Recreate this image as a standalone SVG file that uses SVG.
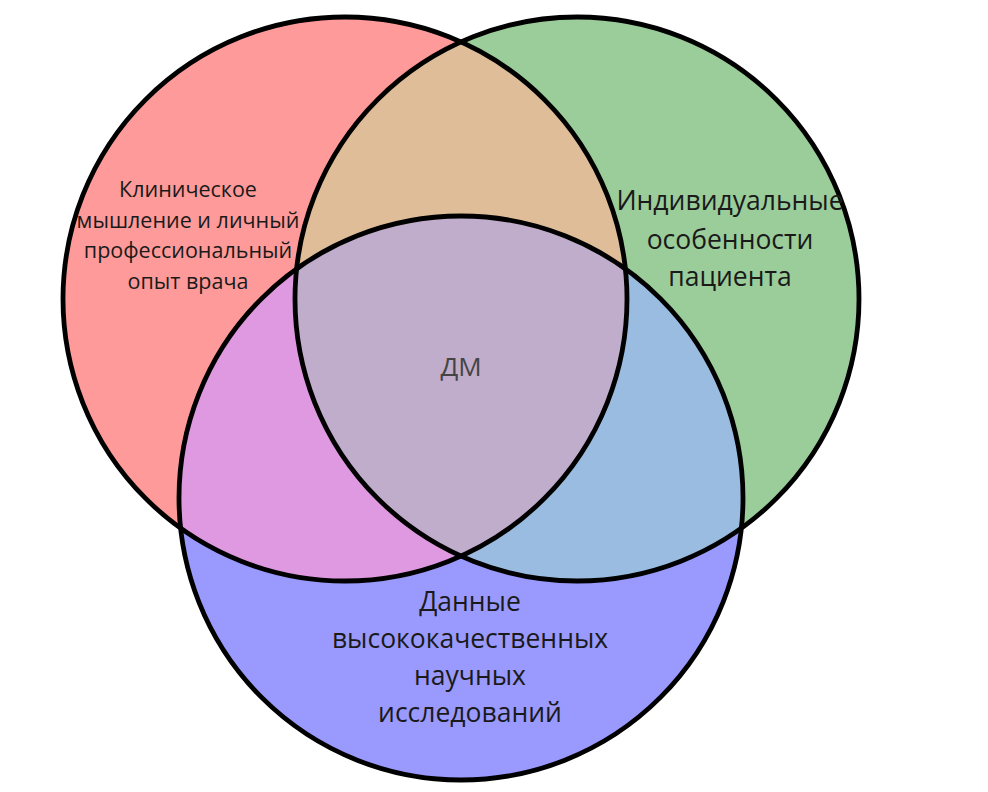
<svg xmlns="http://www.w3.org/2000/svg" width="988" height="792" viewBox="0 0 988 792">
<style>
.st{fill:none;stroke:#000;stroke-width:4.8}
.t{font-family:"Open Sans","Noto Sans",sans-serif;text-anchor:middle;fill:#1a1a1a}
</style>
<defs>
<clipPath id="cR"><circle cx="345" cy="299" r="282"/></clipPath>
<clipPath id="cG"><circle cx="577" cy="299" r="282"/></clipPath>
<clipPath id="cB"><circle cx="461" cy="498" r="282"/></clipPath>
</defs>
<rect width="988" height="792" fill="#fff"/>
<g id="fills">
<circle cx="345" cy="299" r="282" fill="#fe9a99"/>
<circle cx="577" cy="299" r="282" fill="#9bcd9a"/>
<circle cx="461" cy="498" r="282" fill="#9a9afe"/>
<g clip-path="url(#cR)"><circle cx="577" cy="299" r="282" fill="#e0bd99"/><circle cx="461" cy="498" r="282" fill="#df99e0"/></g>
<g clip-path="url(#cG)"><circle cx="461" cy="498" r="282" fill="#9abce0"/></g>
<g clip-path="url(#cR)"><g clip-path="url(#cG)"><circle cx="461" cy="498" r="282" fill="#c0accb"/></g></g>
</g>
<g id="node-red"><circle class="st" cx="345" cy="299" r="282"/></g>
<g id="node-green"><circle class="st" cx="577" cy="299" r="282"/></g>
<g id="node-blue"><circle class="st" cx="461" cy="498" r="282"/></g>
<g id="label-red" class="t" font-size="21.5">
<text x="188" y="197">Клиническое</text>
<text x="188" y="228">мышление и личный</text>
<text x="188" y="258">профессиональный</text>
<text x="188" y="289">опыт врача</text>
</g>
<g id="label-green" class="t" font-size="26.5">
<text x="730" y="210">Индивидуальные</text>
<text x="730" y="249">особенности</text>
<text x="730" y="286">пациента</text>
</g>
<g id="label-blue" class="t" font-size="26.5">
<text x="470" y="611">Данные</text>
<text x="470" y="648">высококачественных</text>
<text x="470" y="685">научных</text>
<text x="470" y="722">исследований</text>
</g>
<g id="label-center" class="t" font-size="26"><text x="461" y="376" fill="#444">ДМ</text></g>
<g id="connectors"/>
</svg>
